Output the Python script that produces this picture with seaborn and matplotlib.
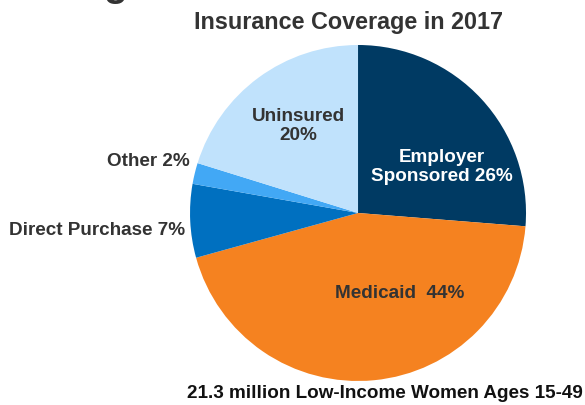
import matplotlib
matplotlib.use("Agg")
import matplotlib.pyplot as plt
import seaborn as sns

sns.set_theme(style="white")
plt.rcParams['font.family'] = ['Liberation Sans', 'DejaVu Sans']

categories = ["Employer Sponsored", "Medicaid", "Direct Purchase", "Other", "Uninsured"]
shares = [26, 44, 7, 2, 20]
colors = ["#003A63", "#F58220", "#0070C0", "#42A8F5", "#C0E2FC"]
slice_labels = ["Employer\nSponsored 26%", "Medicaid  44%", "Direct Purchase 7%", "Other 2%", "Uninsured\n20%"]

fig = plt.figure(figsize=(5.85, 4.05), dpi=100)
ax = fig.add_axes([0.3248, 0.0593, 0.5744, 0.8296])
ax.pie(shares, colors=colors, startangle=90, counterclock=False,
       wedgeprops=dict(linewidth=0), radius=1.0)
ax.set_xlim(-1, 1)
ax.set_ylim(-1, 1)
ax.set_aspect("equal")
ax.axis("off")

txt = dict(fontweight="bold", fontsize=13.6, color="#333333")
ax.text(0.50, 0.274, slice_labels[0], ha="center", va="center",
        **{**txt, "color": "white"}, linespacing=1.12)
ax.text(0.25, -0.482, slice_labels[1], ha="center", va="center", **txt)
ax.text(-1.03, -0.107, slice_labels[2], ha="right", va="center", **txt)
ax.text(-1.0, 0.304, slice_labels[3], ha="right", va="center", **txt)
ax.text(-0.357, 0.518, slice_labels[4], ha="center", va="center", linespacing=1.12, **txt)

fig.text(349 / 585, 1 - 22 / 405, "Insurance Coverage in 2017", ha="center", va="center",
         fontsize=16.8, fontweight="bold", color="#333333")
fig.text(385 / 585, 1 - 393 / 405, "21.3 million Low-Income Women Ages 15-49", ha="center",
         va="center", fontsize=13.6, fontweight="bold", color="#111111")
fig.text(103 / 585, 1 + 4 / 405, "g", ha="left", va="baseline",
         fontsize=28, fontweight="bold", color="#333333")

fig.savefig("out.png", dpi=100)
